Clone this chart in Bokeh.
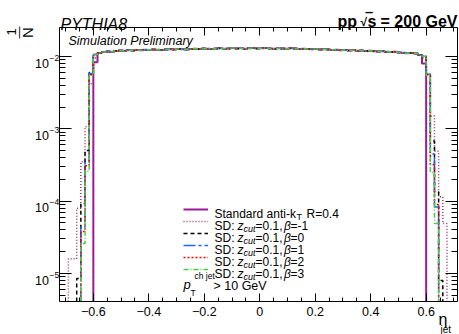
import math
from bokeh.plotting import figure
from bokeh.models import (Range1d, LinearAxis, LogAxis, FixedTicker, Label,
                          Legend, LegendItem, CustomJSTickFormatter)
from bokeh.embed import file_html
from bokeh.resources import INLINE

# ---------------- data ----------------
bin_lo = -0.72
bin_w = 0.015
n_bins = 96
first_plateau_bin = 8          # bin [-0.6, -0.585]

# per-bin fraction (1/N), 80 bins from -0.6 to 0.6 (soft-drop curves)
plateau = [0.0107, 0.0112, 0.0115, 0.0117, 0.0116, 0.0119, 0.0121, 0.0120,
           0.0122, 0.0121, 0.0123, 0.0122, 0.0124, 0.0123, 0.0125, 0.0124,
           0.0123, 0.0125, 0.0126, 0.0125, 0.0127, 0.0126, 0.0125, 0.0127,
           0.0128, 0.0127, 0.0129, 0.0128, 0.0127, 0.0129, 0.0130, 0.0128,
           0.0129, 0.0131, 0.0129, 0.0130, 0.0128, 0.0130, 0.0131, 0.0129,
           0.0130, 0.0131, 0.0129, 0.0128, 0.0130, 0.0129, 0.0128, 0.0130,
           0.0129, 0.0127, 0.0128, 0.0127, 0.0126, 0.0127, 0.0125, 0.0126,
           0.0125, 0.0123, 0.0124, 0.0122, 0.0123, 0.0121, 0.0122, 0.0120,
           0.0121, 0.0119, 0.0120, 0.0118, 0.0117, 0.0118, 0.0116, 0.0115,
           0.0116, 0.0114, 0.0113, 0.0111, 0.0112, 0.0110, 0.0105, 0.0101]

# standard anti-kT: edge bins differ
std_edge_first = 0.0083
std_edge_last = 0.0080

# tails outside |eta| < 0.6 (left list ends at bin [-0.615,-0.6],
# right list starts at bin [0.6,0.615])
sd_m1_left = [1.6e-5, 1.6e-5, 8.0e-5, 3.5e-4, 1.07e-3, 4.2e-3]
sd_m1_right = [4.5e-3, 1.5e-3, 4.9e-4, 1.15e-4, 4.9e-5]
sd_m1_edge = 0.0095
sd_0_left = [8.5e-6, 9.3e-5, 5.0e-4, 6.0e-3]
sd_0_right = [5.8e-3, 6.8e-4, 1.35e-4, 8.0e-6]
sd_1_left = [4.4e-5, 3.4e-4, 5.8e-3]
sd_1_right = [5.7e-3, 4.5e-4, 8.3e-5]
sd_2_left = [3.8e-5, 3.1e-4, 5.6e-3]
sd_2_right = [5.6e-3, 3.2e-4, 9.0e-5]
sd_3_left = [2.6e-5, 2.6e-4, 5.4e-3]
sd_3_right = [5.5e-3, 2.5e-4, 4.9e-5]

y_ticks = [1e-5, 1e-4, 1e-3, 1e-2]
x_ticks = [-0.6, -0.4, -0.2, 0.0, 0.2, 0.4, 0.6]
x_tick_labels = ["\u22120.6", "\u22120.4", "\u22120.2", "0", "0.2", "0.4", "0.6"]
beta_labels = ["-1", "0", "1", "2", "3"]

# ---------------- geometry ----------------
W, H = 459, 334
FL, FR, FT, FB = 59, 457, 27, 301       # axis box in pixels
X_LO, X_HI = -0.722, 0.713              # data at box edges
LY_LO, LY_HI = -5.387, -1.599           # log10 data at box edges


def px2x(px):
    return X_LO + (px - FL) / (FR - FL) * (X_HI - X_LO)


def px2y(py):
    return 10 ** (LY_LO + (FB - py) / (FB - FT) * (LY_HI - LY_LO))


def y2px(v):
    return FB - (math.log10(v) - LY_LO) / (LY_HI - LY_LO) * (FB - FT)


def build(left, right, first=None, last=None):
    vals = [0.0] * n_bins
    for j, v in enumerate(plateau):
        vals[first_plateau_bin + j] = v
    if first is not None:
        vals[first_plateau_bin] = first
    if last is not None:
        vals[first_plateau_bin + len(plateau) - 1] = last
    for j, v in enumerate(left):
        vals[first_plateau_bin - len(left) + j] = v
    for j, v in enumerate(right):
        vals[first_plateau_bin + len(plateau) + j] = v
    return vals


def steps(vals, floor):
    nz = [i for i, v in enumerate(vals) if v > 0]
    i0, i1 = nz[0], nz[-1]
    xs = [bin_lo + i0 * bin_w]
    ys = [floor]
    for i in range(i0, i1 + 1):
        x0 = bin_lo + i * bin_w
        y = max(vals[i], floor)
        xs += [x0, x0 + bin_w]
        ys += [y, y]
    xs.append(bin_lo + (i1 + 1) * bin_w)
    ys.append(floor)
    return xs, ys


# frame covers the whole canvas; axes are pinned at the box edges
p = figure(width=W, height=H, x_range=Range1d(px2x(0), px2x(W)),
           y_range=Range1d(px2y(H), px2y(0)), y_axis_type="log",
           output_backend="svg", toolbar_location=None,
           min_border_left=0, min_border_right=0,
           min_border_top=0, min_border_bottom=0)
p.xgrid.visible = False
p.ygrid.visible = False
p.outline_line_color = None
p.background_fill_color = "white"
p.border_fill_color = "white"

FONT = "Liberation Sans"
Y_BOT, Y_TOP = 10 ** LY_LO, 10 ** LY_HI

x_minor = [round(-0.7 + 0.05 * k, 3) for k in range(29)]
x_minor = [v for v in x_minor if all(abs(v - t) > 1e-6 for t in x_ticks)]
y_minor = [k * 10.0 ** n for n in range(-6, -2) for k in range(2, 10)]
y_minor = [v for v in y_minor if Y_BOT < v < 1e-2]

blank = CustomJSTickFormatter(code="return ''")

xa = p.xaxis[0]
xa.ticker = FixedTicker(ticks=x_ticks, minor_ticks=x_minor)
xa.major_label_overrides = {t: l for t, l in zip(x_ticks, x_tick_labels)}
xa.major_label_text_font = FONT
xa.major_label_text_font_size = "12.5px"
xa.major_label_text_color = "black"
xa.major_label_standoff = 5
xa.major_tick_in = 8
xa.major_tick_out = 0
xa.minor_tick_in = 4
xa.minor_tick_out = 0
xa.axis_line_color = "black"
xa.fixed_location = Y_BOT
xa.bounds = (X_LO, X_HI)

ya = p.yaxis[0]
ya.ticker = FixedTicker(ticks=y_ticks, minor_ticks=y_minor)
ya.formatter = blank
ya.major_label_standoff = 0
ya.major_tick_in = 12
ya.major_tick_out = 0
ya.minor_tick_in = 6
ya.minor_tick_out = 0
ya.fixed_location = X_LO
ya.bounds = (Y_BOT, Y_TOP)

top = LinearAxis(ticker=FixedTicker(ticks=x_ticks, minor_ticks=x_minor),
                 formatter=blank, major_label_standoff=0,
                 major_tick_in=8, major_tick_out=0, minor_tick_in=4,
                 minor_tick_out=0, fixed_location=Y_TOP, bounds=(X_LO, X_HI))
p.add_layout(top, "above")
right = LogAxis(ticker=FixedTicker(ticks=y_ticks, minor_ticks=y_minor),
                formatter=blank, major_label_standoff=0,
                major_tick_in=12, major_tick_out=0, minor_tick_in=6,
                minor_tick_out=0, fixed_location=X_HI, bounds=(Y_BOT, Y_TOP))
p.add_layout(right, "right")

series = [
    ("std", build([], [], std_edge_first, std_edge_last), "#9a1a9a", 2.0, "solid"),
    ("m1", build(sd_m1_left, sd_m1_right, sd_m1_edge, sd_m1_edge), "#993366", 1.5, "1 2"),
    ("b0", build(sd_0_left, sd_0_right), "black", 1.5, "4 3"),
    ("b1", build(sd_1_left, sd_1_right), "#1a66ff", 1.5, "12 3 3 3"),
    ("b2", build(sd_2_left, sd_2_right), "#ff0000", 1.5, "2 2"),
    ("b3", build(sd_3_left, sd_3_right), "#44d044", 1.5, "5 2 1 2"),
]
renderers = []
for name, vals, col, lw, dash in series:
    xs, ys = steps(vals, Y_BOT)
    r = p.line(xs, ys, line_color=col, line_width=lw, line_dash=dash)
    renderers.append(r)

legend = Legend(items=[LegendItem(label="x", renderers=[r]) for r in renderers],
                location=(183, H - 274.5), glyph_width=25, glyph_height=12,
                label_height=12, label_width=1, label_standoff=0, spacing=0,
                padding=0, margin=0, label_text_font_size="6px",
                label_text_alpha=0,
                background_fill_alpha=0, border_line_alpha=0)
p.add_layout(legend)


def lab(text, px, py, size, style="normal", align="left",
        baseline="alphabetic", angle=0.0):
    p.add_layout(Label(x=px2x(px), y=px2y(py), text=text, text_font=FONT,
                       text_font_size=f"{size}px", text_font_style=style,
                       text_align=align, text_baseline=baseline, angle=angle,
                       text_color="black"))


# y tick labels 10^n
for v in y_ticks:
    ty = y2px(v)
    n = int(round(math.log10(v)))
    lab("10", 48.5, ty + 6.5, 12.5, align="right")
    lab("\u2212" + str(-n), 49, ty + 1, 8.5)

# titles
lab("PYTHIA8", 60, 24, 16, style="italic")
lab("pp", 337, 21, 16, style="bold")
lab("\u221a", 360, 21, 12, style="bold")
lab("s", 367, 21, 16, style="bold")
lab("\u203e", 366, 19, 16, style="bold")
lab("= 200 GeV", 457, 21, 16, style="bold", align="right")
lab("Simulation Preliminary", 68, 40, 12.5, style="italic")

# axis titles
lab("\u03b7", 438, 318.5, 16)
lab("jet", 440, 329, 10)
lab("1", 11, 31.5, 13, align="center", baseline="middle", angle=math.pi / 2)
lab("\u2015", 18.5, 32, 12, align="center", baseline="middle", angle=math.pi / 2)
lab("N", 27, 32, 15, align="center", baseline="middle", angle=math.pi / 2)

# legend texts
row0 = 208.5
lab("Standard anti-k", 214, row0 + 4.5, 12)
lab("T", 296, row0 + 7.5, 9)
lab("R=0.4", 306, row0 + 4.5, 12)
for i, b in enumerate(beta_labels):
    ry = row0 + 12 * (i + 1)
    lab("SD:", 214, ry + 4.5, 12)
    lab("z", 237, ry + 4.5, 12, style="italic")
    lab("cut", 243, ry + 7.5, 9, style="italic")
    lab("=0.1,", 255, ry + 4.5, 12)
    lab("\u03b2", 283.5, ry + 4.5, 12, style="italic")
    lab("=" + b, 290, ry + 4.5, 12)

lab("p", 183, 284, 13, style="italic")
lab("T", 190, 292, 8.5)
lab("ch jet", 194, 275, 8.5)
lab("> 10 GeV", 213, 285, 12.5)

open("out.html", "w").write(file_html(p, INLINE))
